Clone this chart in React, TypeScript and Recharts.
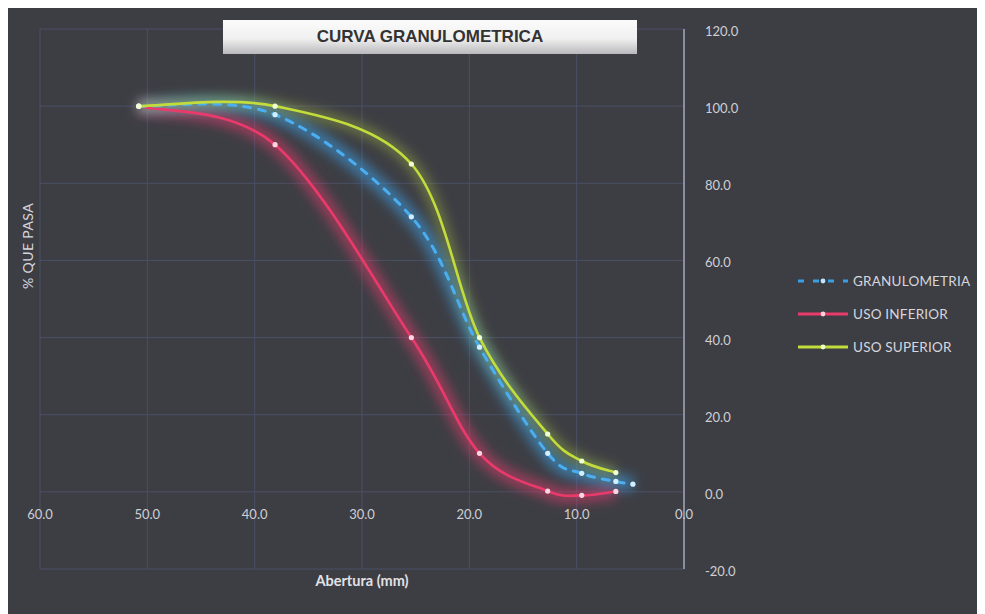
import React from 'react';
import { LineChart, Line, XAxis, YAxis, CartesianGrid } from 'recharts';

// sieve openings (mm)
const aberturas = [50.8, 38.1, 25.4, 19.05, 12.7, 9.525, 6.35, 4.76];
const granulometria = [100, 97.8, 71.3, 37.5, 10, 4.8, 2.7, 2];
const usoInferior = [100, 90, 40, 10, 0.2, -0.9, 0.1];
const usoSuperior = [100, 100, 85, 40, 15, 8, 5];

const xTicks = [60, 50, 40, 30, 20, 10, 0];
const yTicks = [-20, 0, 20, 40, 60, 80, 100, 120];

const toSeries = (vals: number[]) => vals.map((v, i) => ({ x: aberturas[i], y: v }));
const gran = toSeries(granulometria);
const inf = toSeries(usoInferior);
const sup = toSeries(usoSuperior);

const BLUE = '#3a9ee4';
const RED = '#ea3a6c';
const GREEN = '#c2dc3c';

// Excel-like smoothed line: cubic bezier through points, controls at 1/6 of neighbour span
const excelSmooth = (context: any) => {
  let pts: number[][] = [];
  return {
    areaStart() {},
    areaEnd() {},
    lineStart() {
      pts = [];
    },
    point(x: number, y: number) {
      pts.push([+x, +y]);
    },
    lineEnd() {
      const n = pts.length;
      if (!n) return;
      context.moveTo(pts[0][0], pts[0][1]);
      for (let i = 0; i < n - 1; i++) {
        const p0 = pts[Math.max(i - 1, 0)];
        const p1 = pts[i];
        const p2 = pts[i + 1];
        const p3 = pts[Math.min(i + 2, n - 1)];
        context.bezierCurveTo(
          p1[0] + (p2[0] - p0[0]) / 6,
          p1[1] + (p2[1] - p0[1]) / 6,
          p2[0] - (p3[0] - p1[0]) / 6,
          p2[1] - (p3[1] - p1[1]) / 6,
          p2[0],
          p2[1]
        );
      }
    },
  };
};

const makeDot = (fill: string) => (props: any) => {
  const { cx, cy, index } = props;
  if (cx == null || cy == null) return <g key={index} />;
  return <circle key={index} cx={cx} cy={cy} r={2.6} fill={fill} stroke="none" />;
};

const XTick = ({ x, y, payload }: any) => (
  <text x={x} y={y - 58} textAnchor="middle" fill="#cfcfd4" fontSize={13} fontFamily="Lato, 'Open Sans', sans-serif">
    {Number(payload.value).toFixed(1)}
  </text>
);

const YTick = ({ x, y, payload }: any) => (
  <text x={x + 13} y={y + 7} textAnchor="start" fill="#cfcfd4" fontSize={13} fontFamily="Lato, 'Open Sans', sans-serif">
    {Number(payload.value).toFixed(1)}
  </text>
);

const legendItems = [
  { name: 'GRANULOMETRIA', color: BLUE, dash: '6 9', dot: '#bfe6ff' },
  { name: 'USO INFERIOR', color: RED, dash: undefined, dot: '#ffd0dc' },
  { name: 'USO SUPERIOR', color: GREEN, dash: undefined, dot: '#ecffc0' },
];

const font = "Lato, 'Open Sans', sans-serif";

export default function App() {
  return (
    <div style={{ position: 'relative', width: 977, height: 606, background: '#3d3e44', fontFamily: font, overflow: 'hidden' }}>
      <style>{'html,body{overflow:hidden}'}</style>
      <LineChart
        width={977}
        height={606}
        margin={{ top: 21, right: 0, left: 32, bottom: 0 }}
        style={{ position: 'absolute', left: 0, top: 0 }}
      >
        <defs>
          <filter id="glow" x="-20%" y="-20%" width="140%" height="140%">
            <feGaussianBlur stdDeviation="6" />
          </filter>
        </defs>
        <CartesianGrid stroke="#4a5066" strokeWidth={1} />
        <XAxis
          type="number"
          dataKey="x"
          domain={[0, 60]}
          ticks={xTicks}
          reversed
          allowDataOverflow
          axisLine={false}
          tickLine={false}
          tick={<XTick />}
          height={45}
          interval={0}
        />
        <YAxis
          type="number"
          orientation="right"
          domain={[-20, 120]}
          ticks={yTicks}
          axisLine={{ stroke: '#b9bfcf', strokeWidth: 1.2 }}
          tickLine={false}
          tick={<YTick />}
          width={301}
          interval={0}
        />
        {/* glow halos */}
        <Line data={inf} dataKey="y" type={excelSmooth as any} stroke={RED} strokeOpacity={0.55} strokeWidth={14} filter="url(#glow)" dot={false} activeDot={false} isAnimationActive={false} />
        <Line data={gran} dataKey="y" type={excelSmooth as any} stroke={BLUE} strokeOpacity={0.6} strokeWidth={14} filter="url(#glow)" dot={false} activeDot={false} isAnimationActive={false} />
        <Line data={sup} dataKey="y" type={excelSmooth as any} stroke={GREEN} strokeOpacity={0.4} strokeWidth={10} filter="url(#glow)" dot={false} activeDot={false} isAnimationActive={false} />
        {/* series */}
        <Line data={inf} dataKey="y" name="USO INFERIOR" type={excelSmooth as any} stroke={RED} strokeWidth={2.6} dot={makeDot('#ffd6e0')} activeDot={false} isAnimationActive={false} />
        <Line data={gran} dataKey="y" name="GRANULOMETRIA" type={excelSmooth as any} stroke="#4aaef0" strokeWidth={3} strokeDasharray="7 8" strokeLinecap="round" dot={makeDot('#d2efff')} activeDot={false} isAnimationActive={false} />
        <Line data={sup} dataKey="y" name="USO SUPERIOR" type={excelSmooth as any} stroke={GREEN} strokeWidth={2.6} dot={makeDot('#f0ffd0')} activeDot={false} isAnimationActive={false} />
      </LineChart>

      {/* title box */}
      <div
        style={{
          position: 'absolute',
          left: 215,
          top: 12,
          width: 414,
          height: 34,
          background: 'linear-gradient(#fbfbfb 0%, #f0f0f0 55%, #b9b9bd 100%)',
          color: '#333',
          fontFamily: "'Liberation Sans', Arial, sans-serif",
          fontWeight: 'bold',
          fontSize: 17,
          textAlign: 'center',
          lineHeight: '34px',
        }}
      >
        CURVA GRANULOMETRICA
      </div>

      {/* y axis title */}
      <div
        style={{
          position: 'absolute',
          left: 19,
          top: 238,
          transform: 'translate(-50%, -50%) rotate(-90deg)',
          color: '#d6d6dc',
          fontSize: 14,
          letterSpacing: 0.4,
          whiteSpace: 'nowrap',
        }}
      >
        % QUE PASA
      </div>

      {/* x axis title */}
      <div
        style={{
          position: 'absolute',
          left: 354,
          top: 572,
          transform: 'translate(-50%, -50%)',
          color: '#e2e2e6',
          fontSize: 14.5,
          fontWeight: 'bold',
          whiteSpace: 'nowrap',
        }}
      >
        Abertura (mm)
      </div>

      {/* legend */}
      <div style={{ position: 'absolute', left: 789, top: 256, width: 188 }}>
        {legendItems.map((it) => (
          <div key={it.name} style={{ display: 'flex', alignItems: 'center', height: 33, whiteSpace: 'nowrap' }}>
            <svg width={52} height={10} style={{ marginRight: 4, flexShrink: 0 }}>
              <line x1={1} y1={5} x2={51} y2={5} stroke={it.color} strokeWidth={3} strokeDasharray={it.dash} />
              <circle cx={26} cy={5} r={2.4} fill={it.dot} />
            </svg>
            <span style={{ color: '#d6d6dc', fontSize: 13.5, letterSpacing: 0.2 }}>{it.name}</span>
          </div>
        ))}
      </div>
    </div>
  );
}
